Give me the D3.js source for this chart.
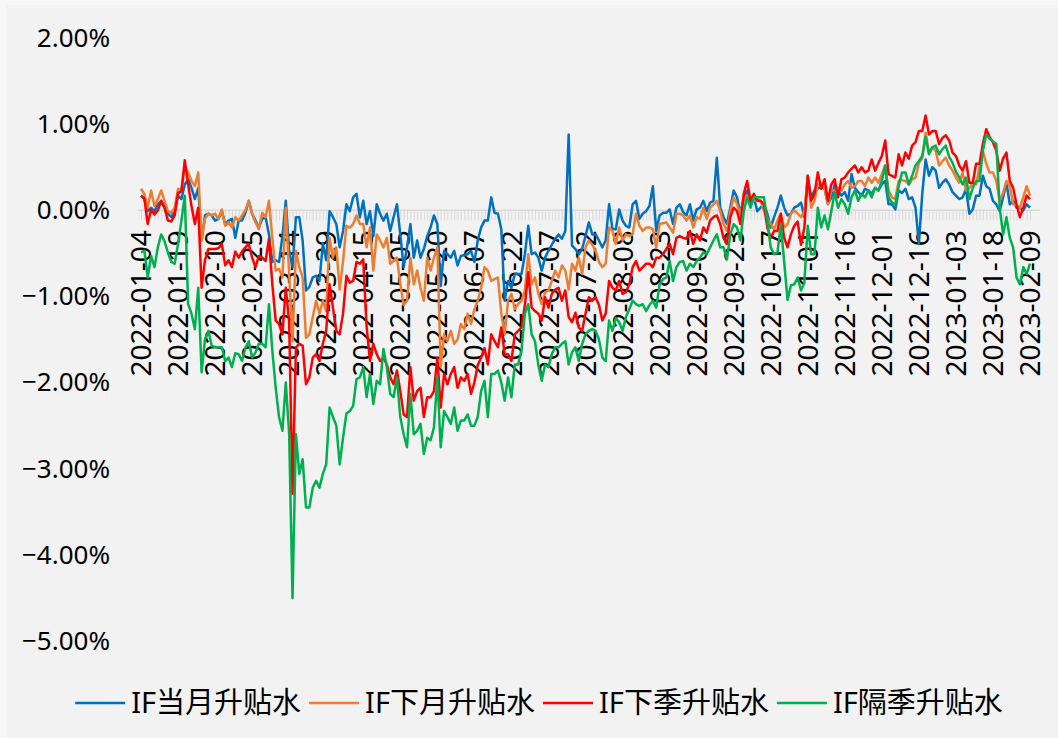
<!DOCTYPE html>
<html>
<head>
<meta charset="utf-8">
<script src="https://cdn.jsdelivr.net/npm/d3@7"></script>
<style>
  html, body { margin: 0; padding: 0; background: #f7f7f7; }
  svg { display: block; }
  text { font-family: "Noto Sans", "Noto Sans CJK SC", sans-serif; fill: #000; }
</style>
</head>
<body>
<svg id="chart" width="1058" height="738"></svg>
<script>
(function () {
  'use strict';

  // x tick labels, one every 11 trading days (index 0, 11, 22 ... 264)
  const tickLabels = [
    '2022-01-04', '2022-01-19', '2022-02-10', '2022-02-25', '2022-03-14',
    '2022-03-29', '2022-04-15', '2022-05-05', '2022-05-20', '2022-06-07',
    '2022-06-22', '2022-07-07', '2022-07-22', '2022-08-08', '2022-08-23',
    '2022-09-07', '2022-09-23', '2022-10-17', '2022-11-01', '2022-11-16',
    '2022-12-01', '2022-12-16', '2023-01-03', '2023-01-18', '2023-02-09'
  ];
  const tickStep = 11;

  const seriesNames = ['IF当月升贴水', 'IF下月升贴水', 'IF下季升贴水', 'IF隔季升贴水'];
  const seriesColors = ['#0070c0', '#ed7d31', '#ff0000', '#00b050'];

  const yTicks = [2, 1, 0, -1, -2, -3, -4, -5];

  // basis (%) per trading day
  const ifCurrent = [
    0.17, 0.13, -0.01, 0.03, -0.01, 0.07, 0.11, 0.03, -0.04, -0.08,
    -0.01, 0.17, 0.13, 0.30, 0.36, 0.26, 0.13, 0.26, -0.35, -0.06,
    -0.04, -0.06, -0.12, -0.10, -0.01, -0.16, -0.12, -0.10, -0.32, -0.12,
    -0.12, -0.03, 0.11, -0.04, -0.12, -0.20, -0.10, -0.08, -0.28, -0.60,
    -0.58, -0.60, -0.30, 0.11, -0.47, -0.66, -0.08, -0.08, -0.35, -0.93,
    -0.89, -0.78, -0.76, -0.82, -0.39, -0.58, -0.01, -0.08, -0.16, -0.43,
    -0.24, 0.07, -0.01, 0.15, 0.19, -0.08, 0.11, -0.16, -0.01, -0.30,
    0.07, -0.04, -0.12, -0.04, -0.24, -0.08, 0.07, -0.28, -0.66, -0.43,
    -0.16, -0.55, -0.35, -0.55, -0.45, -0.30, -0.20, -0.06, -0.16, -0.88,
    -0.47, -0.51, -0.55, -0.47, -0.64, -0.53, -0.52, -0.51, -0.47, -0.60,
    -0.35, -0.20, -0.12, -0.12, 0.15, -0.03, -0.04, -0.22, -1.05, -0.82,
    -0.90, -0.74, -0.74, -0.74, -0.51, -0.18, -0.51, -0.49, -0.55, -0.70,
    -0.55, -0.47, -0.40, -0.33, -0.28, -0.33, -0.24, 0.88, -0.41, -0.45,
    -0.51, -0.45, -0.30, -0.14, -0.28, -0.28, -0.35, -0.43, -0.35, 0.07,
    -0.22, -0.22, 0.01, -0.12, -0.18, -0.20, 0.07, 0.11, -0.10, -0.04,
    -0.01, 0.05, 0.28, -0.24, -0.06, -0.03, -0.03, 0.01, -0.16, 0.03,
    0.07, -0.02, -0.06, 0.07, -0.12, 0.01, 0.03, 0.11, -0.01, 0.09,
    0.11, 0.61, 0.03, -0.08, -0.16, 0.03, 0.23, 0.15, -0.04, 0.15,
    0.23, 0.07, 0.15, -0.01, 0.03, 0.07, -0.04, -0.20, -0.08, 0.03,
    0.17, 0.03, -0.06, -0.04, 0.03, 0.05, 0.09, -0.08, 0.40, 0.15,
    0.23, 0.25, 0.28, 0.25, 0.07, 0.15, 0.30, 0.23, 0.17, 0.21,
    0.11, 0.42, 0.26, 0.21, 0.17, 0.25, 0.23, 0.19, 0.26, 0.23,
    0.30, 0.34, 0.07, 0.07, 0.01, 0.23, 0.20, 0.25, 0.13, 0.15,
    0.03, -0.39, 0.19, 0.59, 0.40, 0.50, 0.46, 0.26, 0.32, 0.36,
    0.30, 0.21, 0.17, 0.13, 0.15, 0.25, -0.04, 0.01, 0.17, 0.17,
    0.40, 0.28, 0.25, 0.11, 0.07, -0.01, 0.15, 0.32, 0.07, 0.11,
    0.03, 0.03, 0.00, 0.07, 0.03
  ];

  const ifNext = [
    0.25, 0.19, 0.03, 0.23, 0.05, 0.13, 0.23, 0.11, -0.01, -0.03,
    0.03, 0.25, 0.23, 0.50, 0.44, 0.34, 0.28, 0.44, -0.35, -0.10,
    -0.04, -0.06, -0.04, -0.10, 0.01, -0.18, -0.14, -0.20, -0.08, -0.12,
    -0.06, 0.00, 0.11, -0.04, -0.14, -0.22, -0.03, -0.08, 0.11, -0.32,
    -0.70, -0.68, -0.78, 0.03, -0.74, -1.52, -0.47, -0.66, -0.78, -1.48,
    -1.44, -1.24, -1.05, -1.20, -1.05, -1.17, -0.32, -0.55, -0.43, -0.92,
    -0.59, -0.18, -0.20, -0.16, -0.06, -0.16, -0.16, -0.43, -0.20, -0.70,
    -0.28, -0.35, -0.43, -0.32, -0.62, -0.59, -0.55, -0.85, -1.10, -1.05,
    -0.55, -0.86, -0.70, -0.90, -1.05, -0.55, -0.70, -0.55, -0.43, -1.82,
    -1.44, -1.52, -1.40, -1.55, -1.50, -1.32, -1.38, -1.20, -1.32, -1.15,
    -1.05, -0.90, -0.66, -0.70, -0.82, -0.80, -0.78, -1.20, -1.44, -1.05,
    -0.97, -1.15, -1.09, -1.05, -0.93, -0.51, -0.86, -0.78, -0.97, -1.09,
    -0.95, -0.93, -0.82, -0.70, -0.78, -0.64, -0.70, -0.92, -0.62, -0.70,
    -0.55, -0.74, -0.43, -0.35, -0.40, -0.47, -0.60, -0.66, -0.62, -0.20,
    -0.24, -0.39, -0.20, -0.35, -0.28, -0.30, -0.28, -0.04, -0.18, -0.24,
    -0.20, -0.20, -0.22, -0.43, -0.16, -0.15, -0.14, -0.20, -0.26, -0.04,
    -0.04, -0.06, -0.12, -0.06, -0.20, -0.08, -0.10, 0.03, -0.10, 0.03,
    0.07, 0.11, -0.01, -0.16, -0.24, -0.01, 0.15, 0.07, -0.04, 0.11,
    0.17, 0.11, 0.11, 0.13, 0.11, -0.01, -0.10, -0.16, -0.22, -0.12,
    -0.04, -0.20, -0.16, -0.04, 0.00, -0.04, -0.08, -0.01, 0.38, 0.03,
    0.11, 0.30, 0.28, 0.26, 0.07, 0.23, 0.23, 0.26, 0.23, 0.30,
    0.34, 0.26, 0.28, 0.34, 0.34, 0.28, 0.38, 0.32, 0.38, 0.32,
    0.42, 0.52, 0.23, 0.15, 0.13, 0.34, 0.35, 0.34, 0.30, 0.36,
    0.38, 0.55, 0.60, 0.90, 0.67, 0.73, 0.69, 0.52, 0.57, 0.61,
    0.52, 0.46, 0.38, 0.32, 0.44, 0.23, 0.26, 0.32, 0.30, 0.50,
    0.69, 0.54, 0.44, 0.44, 0.34, 0.11, 0.20, 0.34, 0.28, 0.07,
    0.06, 0.03, 0.15, 0.28, 0.17
  ];

  const ifNextQuarter = [
    0.17, 0.14, -0.16, 0.01, -0.05, 0.00, 0.11, 0.03, -0.12, -0.13,
    -0.06, 0.20, 0.22, 0.58, 0.30, 0.05, -0.16, 0.03, -0.90, -0.58,
    -0.45, -0.45, -0.45, -0.44, -0.39, -0.64, -0.58, -0.66, -0.48, -0.55,
    -0.48, -0.43, -0.39, -0.55, -0.66, -0.53, -0.55, -0.59, -0.33, -0.86,
    -1.28, -1.32, -1.44, -0.90, -1.30, -3.29, -1.59, -1.55, -1.57, -2.02,
    -1.94, -1.71, -1.67, -1.75, -1.55, -1.40, -0.86, -1.13, -1.40, -1.44,
    -1.20, -0.76, -0.84, -0.82, -0.60, -0.62, -0.57, -1.35, -1.75, -1.55,
    -1.67, -1.75, -1.71, -1.79, -1.94, -2.02, -1.86, -2.10, -2.37, -2.40,
    -1.82, -2.21, -2.10, -2.06, -2.40, -2.17, -2.17, -2.10, -1.71, -2.29,
    -1.90, -2.02, -1.90, -1.82, -2.06, -1.94, -1.98, -1.90, -2.13, -2.00,
    -1.80, -1.71, -1.60, -1.79, -1.44, -1.52, -1.59, -1.36, -1.67, -1.67,
    -1.75, -1.44, -1.40, -1.36, -1.10, -0.72, -1.13, -1.17, -1.20, -1.28,
    -1.01, -1.13, -0.97, -0.92, -0.90, -1.05, -0.93, -1.24, -1.30, -1.19,
    -1.36, -1.40, -1.20, -1.01, -1.05, -1.01, -1.10, -1.28, -1.20, -0.82,
    -0.90, -0.93, -0.82, -0.97, -0.95, -0.86, -0.66, -0.59, -0.70, -0.66,
    -0.62, -0.62, -0.66, -0.55, -0.55, -0.51, -0.45, -0.39, -0.51, -0.32,
    -0.30, -0.32, -0.33, -0.24, -0.39, -0.28, -0.35, -0.20, -0.26, -0.12,
    -0.08, -0.06, -0.16, -0.32, -0.39, -0.08, 0.03, -0.01, -0.16, 0.19,
    0.34, 0.11, 0.19, 0.11, 0.11, 0.07, -0.20, -0.32, -0.24, -0.24,
    -0.04, -0.32, -0.43, -0.28, -0.18, -0.13, -0.40, -0.20, 0.40, 0.11,
    0.19, 0.44, 0.25, 0.36, 0.11, 0.30, 0.36, 0.15, 0.36, 0.38,
    0.44, 0.48, 0.52, 0.44, 0.50, 0.44, 0.46, 0.59, 0.46, 0.55,
    0.63, 0.81, 0.42, 0.40, 0.38, 0.65, 0.52, 0.67, 0.60, 0.75,
    0.79, 0.92, 0.92, 1.10, 0.88, 0.92, 0.92, 0.77, 0.84, 0.87,
    0.81, 0.67, 0.63, 0.52, 0.46, 0.57, 0.32, 0.32, 0.54, 0.54,
    0.77, 0.94, 0.85, 0.79, 0.69, 0.46, 0.60, 0.67, 0.34, 0.26,
    0.07, -0.08, 0.03, 0.17, 0.13
  ];

  const ifFarQuarter = [
    -0.49, -0.47, -0.78, -0.53, -0.66, -0.43, -0.28, -0.36, -0.49, -0.60,
    -0.62, -0.39, -0.12, 0.17, -1.09, -1.20, -1.38, -0.90, -1.88, -1.50,
    -1.40, -1.57, -1.59, -1.59, -1.59, -1.75, -1.71, -1.82, -1.66, -1.67,
    -1.75, -1.60, -1.52, -1.71, -1.65, -1.55, -1.55, -1.59, -1.09, -1.63,
    -2.06, -2.40, -2.56, -2.00, -2.60, -4.50, -2.60, -3.06, -2.89, -3.45,
    -3.45, -3.22, -3.14, -3.22, -3.06, -2.95, -2.29, -2.40, -2.50, -2.95,
    -2.64, -2.36, -2.33, -2.27, -1.96, -1.94, -1.82, -2.17, -1.90, -2.25,
    -1.98, -2.02, -1.61, -1.82, -2.13, -2.17, -1.94, -2.40, -2.60, -2.75,
    -2.13, -2.60, -2.56, -2.48, -2.83, -2.64, -2.67, -2.52, -1.94, -2.75,
    -2.33, -2.40, -2.48, -2.29, -2.56, -2.44, -2.44, -2.37, -2.50, -2.50,
    -2.40, -2.10, -1.98, -2.40, -1.90, -1.90, -1.86, -2.00, -2.21, -1.94,
    -2.17, -1.79, -1.79, -1.63, -1.20, -1.09, -1.44, -1.52, -1.80, -1.98,
    -1.79, -1.82, -1.67, -1.59, -1.59, -1.55, -1.52, -1.79, -1.65, -1.59,
    -1.75, -1.55, -1.44, -1.40, -1.38, -1.40, -1.50, -1.71, -1.75, -1.28,
    -1.40, -1.25, -1.30, -1.40, -1.24, -1.15, -1.05, -1.09, -1.11, -1.09,
    -1.17, -1.10, -1.05, -1.13, -0.86, -0.80, -0.78, -0.59, -0.82, -0.66,
    -0.60, -0.59, -0.70, -0.62, -0.66, -0.59, -0.55, -0.49, -0.51, -0.43,
    -0.35, -0.28, -0.43, -0.43, -0.57, -0.28, -0.16, -0.20, -0.35, -0.01,
    0.15, 0.03, 0.15, 0.15, 0.15, 0.15, -0.12, -0.43, -0.51, -0.49,
    -0.16, -0.60, -1.04, -0.87, -0.86, -0.78, -0.93, -0.84, -0.18, -0.51,
    -0.51, 0.03, -0.20, -0.06, -0.22, -0.01, 0.21, 0.03, 0.13, 0.07,
    -0.04, 0.15, 0.23, 0.11, 0.19, 0.15, 0.23, 0.15, 0.26, 0.23,
    0.34, 0.52, 0.15, 0.09, 0.07, 0.28, 0.44, 0.44, 0.30, 0.40,
    0.52, 0.57, 0.63, 0.85, 0.65, 0.73, 0.75, 0.65, 0.71, 0.75,
    0.62, 0.55, 0.45, 0.38, 0.30, 0.38, 0.13, 0.26, 0.34, 0.34,
    0.69, 0.88, 0.83, 0.80, 0.77, 0.03, -0.28, -0.08, -0.32, -0.43,
    -0.78, -0.86, -0.66, -0.74, -0.62
  ];

  const seriesValues = [ifCurrent, ifNext, ifNextQuarter, ifFarQuarter];

  const W = 1058, H = 738;
  const svg = d3.select('#chart');

  // chart background
  svg.append('rect')
    .attr('x', 6).attr('y', 5).attr('width', W - 6).attr('height', H - 5)
    .attr('fill', '#f2f2f2');

  const n = ifCurrent.length;
  const x = d3.scaleLinear().domain([0, n - 1]).range([141, 1030]);
  const y = d3.scaleLinear().domain([-5, 2]).range([641, 38]);

  // y axis labels (no axis line, no gridlines)
  const yAxis = d3.axisLeft(y)
    .tickValues(yTicks)
    .tickFormat(d => d3.format('.2f')(d) + '%')
    .tickSize(0)
    .tickPadding(0);
  const gy = svg.append('g')
    .attr('transform', 'translate(110,0)')
    .call(yAxis);
  gy.select('.domain').remove();
  gy.selectAll('text')
    .attr('font-size', 26)
    .attr('font-family', '"Noto Sans", sans-serif')
    .attr('fill', '#000');

  // category axis crossing at zero, a tick mark on every day
  const xAxis = d3.axisBottom(x)
    .tickValues(d3.range(0, n))
    .tickSize(10)
    .tickFormat('');
  const gx = svg.append('g')
    .attr('transform', `translate(0,${y(0)})`)
    .call(xAxis);
  gx.select('.domain')
    .attr('d', `M${x(0) - 3},0H${x(n - 1) + 10}`)
    .attr('stroke', '#d9d9d9').attr('stroke-width', 1.5);
  gx.selectAll('.tick line').attr('stroke', '#d9d9d9').attr('stroke-width', 1);

  // rotated date labels
  svg.append('g').attr('class', 'x-labels')
    .selectAll('text')
    .data(tickLabels)
    .join('text')
    .attr('transform', (d, i) => `translate(${x(i * tickStep)},${y(0) + 20}) rotate(-90)`)
    .attr('text-anchor', 'end')
    .attr('dy', '0.36em')
    .attr('font-size', 28)
    .text(d => d);

  // series lines
  const line = d3.line()
    .x((d, i) => x(i))
    .y(d => y(d));

  svg.append('g').attr('class', 'series')
    .selectAll('path')
    .data(seriesValues)
    .join('path')
    .attr('d', line)
    .attr('fill', 'none')
    .attr('stroke', (d, i) => seriesColors[i])
    .attr('stroke-width', 2.5)
    .attr('stroke-linejoin', 'round');

  // legend, centred under the plot
  const legend = svg.append('g').attr('class', 'legend');
  const legendY = 703;
  const sampleW = 50, sampleGap = 6, itemGap = 8;
  const items = legend.selectAll('g')
    .data(seriesNames)
    .join('g');
  items.append('line')
    .attr('x1', 0).attr('x2', sampleW)
    .attr('y1', 0).attr('y2', 0)
    .attr('stroke', (d, i) => seriesColors[i])
    .attr('stroke-width', 2.5);
  items.append('text')
    .attr('x', sampleW + sampleGap)
    .attr('dy', '0.35em')
    .attr('font-size', 29)
    .attr('font-family', '"Noto Sans CJK SC", sans-serif')
    .text(d => d);

  const widths = [];
  items.each(function () {
    widths.push(sampleW + sampleGap + this.querySelector('text').getComputedTextLength());
  });
  const total = d3.sum(widths) + itemGap * (widths.length - 1);
  let cx = 539 - total / 2;
  items.attr('transform', (d, i) => {
    const t = `translate(${cx},${legendY})`;
    cx += widths[i] + itemGap;
    return t;
  });
})();
</script>
</body>
</html>
